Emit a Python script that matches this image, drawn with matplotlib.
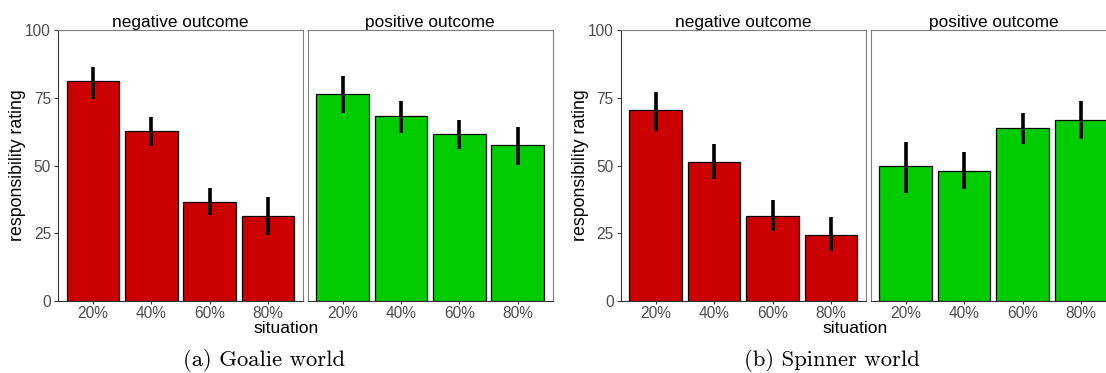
import matplotlib.pyplot as plt

# --- data ---
situations = ["20%", "40%", "60%", "80%"]
outcomes = ["negative outcome", "positive outcome"]
worlds = ["(a) Goalie world", "(b) Spinner world"]

goalie_neg = [81.2, 62.7, 36.5, 31.2]
goalie_neg_lo = [74.5, 57.2, 31.7, 24.4]
goalie_neg_hi = [86.5, 68.0, 41.6, 38.5]

goalie_pos = [76.4, 68.3, 61.5, 57.4]
goalie_pos_lo = [69.5, 62.1, 56.0, 50.2]
goalie_pos_hi = [83.1, 73.9, 66.7, 64.3]

spinner_neg = [70.5, 51.2, 31.4, 24.2]
spinner_neg_lo = [62.7, 44.9, 26.0, 18.5]
spinner_neg_hi = [77.2, 57.8, 37.1, 31.1]

spinner_pos = [49.7, 47.8, 63.7, 66.8]
spinner_pos_lo = [40.0, 41.2, 57.8, 59.7]
spinner_pos_hi = [58.5, 54.9, 69.5, 73.9]

colores = ["#CC0000", "#00CC00"]

W, H = 1106, 373
fig = plt.figure(figsize=(W / 100, H / 100), dpi=100)
plt.rcParams["font.family"] = ["Liberation Sans", "DejaVu Sans"]


def px_axes(x0, x1, y0, y1):
    # y0/y1 measured from the top of the picture
    return fig.add_axes([x0 / W, (H - y1) / H, (x1 - x0) / W, (y1 - y0) / H])


def draw_panel(ax, means, lo, hi, color, title, show_y):
    xs = list(range(1, len(situations) + 1))
    ax.bar(xs, means, width=0.9, color=color, edgecolor="black", linewidth=0.9, zorder=2)
    ax.vlines(xs, lo, hi, color="black", linewidth=2.6, zorder=3)
    ax.set_xlim(0.4, 4.6)
    ax.set_ylim(0, 100)
    ax.set_xticks(xs)
    ax.set_xticklabels(situations, fontsize=11.2, color="#4D4D4D")
    ax.set_yticks([0, 25, 50, 75, 100])
    ax.tick_params(axis="x", length=2, width=0.7, color="#333333", pad=1.5)
    if show_y:
        ax.set_yticklabels(["0", "25", "50", "75", "100"], fontsize=11.2, color="#4D4D4D")
        ax.tick_params(axis="y", length=3, width=0.7, color="#333333", pad=2)
        ax.spines["left"].set_color("#333333")
    else:
        ax.tick_params(axis="y", length=0, labelleft=False)
        ax.spines["left"].set_color("#7F7F7F")
    ax.spines["bottom"].set_color("#333333")
    ax.spines["top"].set_color("#7F7F7F")
    ax.spines["right"].set_color("#7F7F7F")
    for s in ax.spines.values():
        s.set_linewidth(0.8)
    ax.set_title(title, fontsize=12.4, color="black", pad=2.5)


paneles = [
    (58, 303, [(goalie_neg, goalie_neg_lo, goalie_neg_hi), (goalie_pos, goalie_pos_lo, goalie_pos_hi)]),
    (620.7, 866, [(spinner_neg, spinner_neg_lo, spinner_neg_hi), (spinner_pos, spinner_pos_lo, spinner_pos_hi)]),
]

for k, (x0, x1, series) in enumerate(paneles):
    gap = 4.7
    anchos = x1 - x0
    for j, (m, lo, hi) in enumerate(series):
        left = x0 + j * (anchos + gap)
        ax = px_axes(left, left + anchos, 30, 301)
        draw_panel(ax, m, lo, hi, colores[j], outcomes[j], j == 0)
    # shared labels
    fig.text((x0 - 40) / W, 1 - 165 / H, "responsibility rating", rotation=90,
             ha="center", va="center", fontsize=12.8)

fig.text(286 / W, 1 - 328.5 / H, "situation", ha="center", va="center", fontsize=12.6)
fig.text(855 / W, 1 - 328.5 / H, "situation", ha="center", va="center", fontsize=12.6)

fig.text(264 / W, 1 - 360 / H, worlds[0], ha="center", va="center", fontsize=16.3, family="cmr10")
fig.text(832 / W, 1 - 360 / H, worlds[1], ha="center", va="center", fontsize=16.3, family="cmr10")

fig.savefig("out.png", dpi=100)
